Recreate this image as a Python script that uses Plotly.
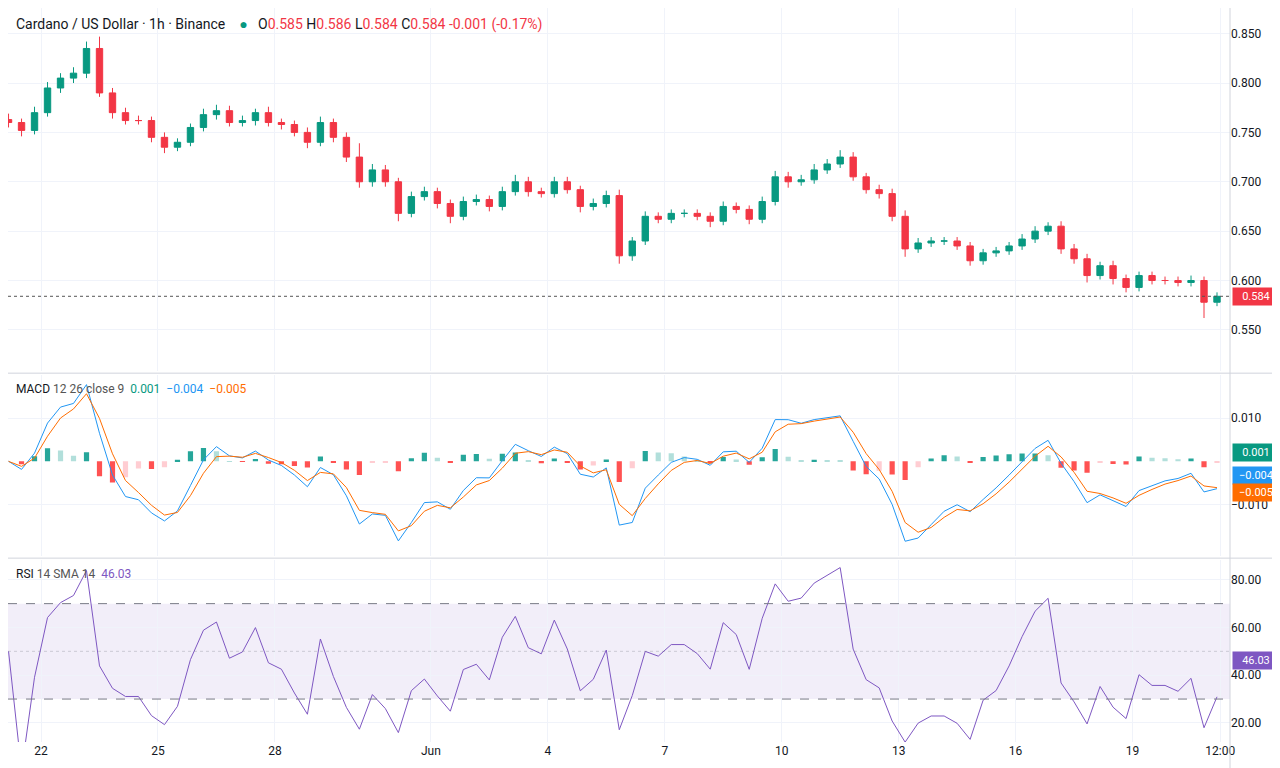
import plotly.graph_objects as go
import pandas as pd
import numpy as np

# 8-hour closes (May 21 04:00 onward)
closes = [0.760,0.752,0.770,0.795,0.805,0.810,0.835,0.790,0.770,0.762,0.762,0.745,0.735,0.740,0.755,0.768,
0.772,0.760,0.762,0.770,0.760,0.758,0.750,0.740,0.760,0.745,0.725,0.700,0.712,0.700,0.668,0.685,0.690,0.678,
0.665,0.680,0.682,0.675,0.690,0.700,0.690,0.688,0.700,0.692,0.675,0.678,0.686,0.625,0.640,0.665,0.662,0.668,
0.668,0.665,0.660,0.675,0.672,0.662,0.680,0.705,0.700,0.702,0.712,0.718,0.725,0.705,0.692,0.688,0.665,0.632,
0.638,0.640,0.640,0.635,0.620,0.628,0.630,0.635,0.642,0.650,0.655,0.632,0.622,0.605,0.615,0.602,0.593,0.605,
0.600,0.600,0.598,0.600,0.578,0.584]
wick_up = [0.006,0.004,0.006,0.006,0.005,0.006,0.007,0.012,0.005,0.005,0.005,0.004,0.005,0.004,0.004,0.006,
0.006,0.005,0.005,0.004,0.006,0.004,0.004,0.005,0.006,0.004,0.005,0.014,0.006,0.005,0.004,0.005,0.005,0.004,
0.004,0.005,0.005,0.004,0.005,0.007,0.005,0.004,0.005,0.005,0.004,0.005,0.005,0.006,0.004,0.005,0.004,0.004,
0.004,0.004,0.004,0.005,0.004,0.004,0.005,0.006,0.005,0.005,0.006,0.005,0.007,0.005,0.004,0.005,0.005,0.006,
0.005,0.004,0.004,0.004,0.004,0.004,0.004,0.004,0.005,0.005,0.004,0.005,0.005,0.005,0.004,0.005,0.004,0.004,
0.004,0.004,0.004,0.005,0.004,0.004]
wick_dn = [0.005,0.006,0.004,0.004,0.005,0.005,0.005,0.004,0.006,0.004,0.004,0.005,0.006,0.004,0.004,0.004,
0.005,0.004,0.004,0.005,0.004,0.005,0.004,0.006,0.004,0.005,0.005,0.006,0.005,0.005,0.008,0.004,0.004,0.005,
0.007,0.004,0.004,0.005,0.004,0.004,0.005,0.004,0.004,0.004,0.006,0.004,0.004,0.008,0.005,0.004,0.004,0.004,
0.004,0.004,0.006,0.004,0.004,0.005,0.004,0.004,0.006,0.004,0.004,0.004,0.004,0.004,0.004,0.005,0.005,0.008,
0.004,0.004,0.004,0.004,0.005,0.004,0.004,0.004,0.004,0.004,0.004,0.005,0.005,0.007,0.004,0.006,0.005,0.004,
0.004,0.004,0.004,0.004,0.016,0.004]
tick_dates = ["2024-05-22","2024-05-25","2024-05-28","2024-06-01","2024-06-04","2024-06-07","2024-06-10",
              "2024-06-13","2024-06-16","2024-06-19","2024-06-21 06:00"]
tick_text = ["22","25","28","Jun","4","7","10","13","16","19","12:00"]

n = len(closes)
x = pd.date_range("2024-05-21 04:00", periods=n, freq="8h")
opens = [closes[0]+0.003] + closes[:-1]
highs = [max(o, c)+w for o, c, w in zip(opens, closes, wick_up)]
lows = [min(o, c)-w for o, c, w in zip(opens, closes, wick_dn)]

s = pd.Series(closes)
ema_f = s.ewm(span=3.0, adjust=False).mean()
ema_s = s.ewm(span=6.5, adjust=False).mean()
macd = ema_f - ema_s
sig = macd.ewm(span=2.2, adjust=False).mean()
hist = macd - sig
d = s.diff()
up = d.clip(lower=0).ewm(alpha=1/4.5, adjust=False).mean()
dn = (-d.clip(upper=0)).ewm(alpha=1/4.5, adjust=False).mean()
rsi = 100 - 100/(1+up/dn.replace(0, np.nan))
rsi = rsi.fillna(50)

GREEN, RED = "#089981", "#f23645"
fig = go.Figure()
fig.add_trace(go.Candlestick(x=x, open=opens, high=highs, low=lows, close=closes,
    increasing=dict(line=dict(color=GREEN, width=1), fillcolor=GREEN),
    decreasing=dict(line=dict(color=RED, width=1), fillcolor=RED),
    xaxis="x", yaxis="y", showlegend=False, whiskerwidth=0))
hc = []
for i, h in enumerate(hist):
    prev = hist[i-1] if i > 0 else 0
    if h >= 0:
        hc.append("#26a69a" if h >= prev else "#b2dfdb")
    else:
        hc.append("#ff5252" if h < prev else "#ffcdd2")
fig.add_trace(go.Bar(x=x, y=hist, marker=dict(color=hc, line=dict(width=0)), xaxis="x", yaxis="y2", showlegend=False))
fig.add_trace(go.Scatter(x=x, y=macd, mode="lines", line=dict(color="#2196f3", width=1), xaxis="x", yaxis="y2", showlegend=False))
fig.add_trace(go.Scatter(x=x, y=sig, mode="lines", line=dict(color="#ff6d00", width=1), xaxis="x", yaxis="y2", showlegend=False))
fig.add_trace(go.Scatter(x=x, y=rsi, mode="lines", line=dict(color="#7e57c2", width=1), xaxis="x", yaxis="y3", showlegend=False))

grid = "#f0f3fa"
xr = ["2024-05-21 03:40", "2024-06-21 12:00"]
fig.update_layout(
    width=1280, height=768, margin=dict(l=0, r=58, t=0, b=34),
    paper_bgcolor="white", plot_bgcolor="white", font=dict(family="Roboto", size=12, color="#131722"),
    bargap=0.6,
    xaxis=dict(domain=[0,1], range=xr, anchor="y3", tickvals=tick_dates, ticktext=tick_text,
               showgrid=True, gridcolor=grid, rangeslider=dict(visible=False), ticks="", showline=False,
               tickfont=dict(size=12)),
    yaxis=dict(domain=[0.505,1], range=[0.508,0.876], side="right", tickvals=[0.55,0.6,0.65,0.7,0.75,0.8,0.85],
               tickformat=".3f", gridcolor=grid, zeroline=False),
    yaxis2=dict(domain=[0.253,0.5], range=[-0.022,0.02], side="right", tickvals=[-0.01,0.01], tickformat=".3f",
                gridcolor=grid, zeroline=False),
    yaxis3=dict(domain=[0,0.248], range=[12,88.3], side="right", tickvals=[20,40,60,80], tickformat=".2f",
                gridcolor=grid, zeroline=False),
)
fig.add_shape(type="rect", xref="x domain", yref="y3", x0=0, x1=1, y0=30, y1=70, fillcolor="rgba(126,87,194,0.1)", line=dict(width=0), layer="below")
for v in (30, 70):
    fig.add_shape(type="line", xref="x domain", yref="y3", x0=0, x1=1, y0=v, y1=v, line=dict(color="#787b86", width=1, dash="dash"))
fig.add_shape(type="line", xref="x domain", yref="y3", x0=0, x1=1, y0=50, y1=50, line=dict(color="rgba(120,123,134,0.3)", width=1, dash="dot"))
for yv in (0.5025, 0.2505):
    fig.add_shape(type="line", xref="paper", yref="paper", x0=0, x1=1.05, y0=yv, y1=yv, line=dict(color="#d1d4dc", width=1))
fig.add_shape(type="line", xref="paper", yref="paper", x0=1, x1=1, y0=-0.04, y1=1, line=dict(color="#d1d4dc", width=1))
fig.add_shape(type="line", xref="x domain", yref="y", x0=0, x1=1, y0=closes[-1], y1=closes[-1], line=dict(color="#555", width=1, dash="dot"))

ann = [
    dict(x=0.005, y=1.0, xref="paper", yref="paper", xanchor="left", yanchor="top", showarrow=False, yshift=-6,
         text="Cardano / US Dollar · 1h · Binance    <span style='color:#089981'>●</span>   O<span style='color:#f23645'>0.585</span> H<span style='color:#f23645'>0.586</span> L<span style='color:#f23645'>0.584</span> C<span style='color:#f23645'>0.584</span> <span style='color:#f23645'>-0.001 (-0.17%)</span>",
         font=dict(size=14, color="#131722")),
    dict(x=0.005, y=0.498, xref="paper", yref="paper", xanchor="left", yanchor="top", showarrow=False, yshift=-4,
         text="MACD <span style='color:#555'>12 26 close 9</span>  <span style='color:#089981'>0.001</span>  <span style='color:#2196f3'>−0.004</span>  <span style='color:#ff6d00'>−0.005</span>", font=dict(size=12)),
    dict(x=0.005, y=0.246, xref="paper", yref="paper", xanchor="left", yanchor="top", showarrow=False, yshift=-4,
         text="RSI <span style='color:#555'>14 SMA 14</span>  <span style='color:#7e57c2'>46.03</span>", font=dict(size=12)),
]
def tag(y, yref, text, color):
    return dict(x=1.0, y=y, xref="paper", yref=yref, xanchor="left", showarrow=False, text=text, xshift=2,
                font=dict(color="white", size=11), bgcolor=color, borderpad=2, width=42)
ann += [tag(0.584, "y", "0.584", "#f23645"), tag(0.002, "y2", "0.001", "#089981"),
        tag(-0.0032, "y2", "−0.004", "#2196f3"), tag(-0.0072, "y2", "−0.005", "#ff6d00"),
        tag(46.03, "y3", "46.03", "#7e57c2")]
fig.update_layout(annotations=ann)
fig.write_html("out.html")
